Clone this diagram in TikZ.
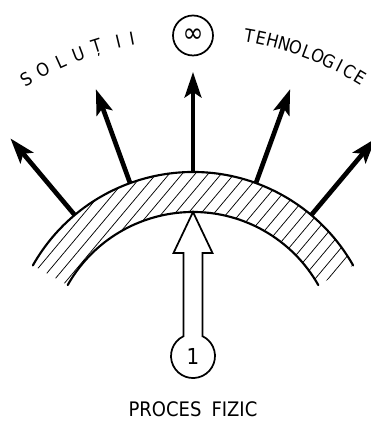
\documentclass[tikz,border=0pt]{standalone}
\usepackage{fontspec}
\setsansfont{DejaVu Sans}[FakeStretch=0.9]
\usepackage{tikz}
\usetikzlibrary{arrows.meta, positioning, calc}
\tikzset{
  >=Stealth,
  font=\sffamily,
  arcline/.style={line width=1.6pt, line cap=round},
  hatch/.style={line width=0.55pt},
  ray/.style={line width=3.5pt, -{Stealth[length=19pt, width=12.5pt, inset=4pt]}},
  hollow/.style={line width=1.3pt, line join=miter},
  ring/.style={circle, draw, line width=1.3pt, minimum size=30pt, inner sep=0pt},
  letter/.style={font=\fontsize{13.5}{14}\selectfont\sffamily, inner sep=0pt},
  caption/.style={font=\fontsize{15}{18}\selectfont\sffamily, inner sep=0pt}
}
\begin{document}
\begin{tikzpicture}[x=0.75pt, y=0.75pt]
  \useasboundingbox (-193,-65) rectangle (178,356);

  % hatched band
  \begin{scope}
    \clip (150.5:184) arc[start angle=150.5, end angle=29.5, radius=184]
      -- (29.5:144) arc[start angle=29.5, end angle=150.5, radius=144] -- cycle;
    \foreach \k in {-24,...,24}
      \draw[hatch] (\k*13,164) ++(230:160) -- ++(50:320);
  \end{scope}
  \draw[arcline] (150.5:184) arc[start angle=150.5, end angle=29.5, radius=184];
  \draw[arcline] (150.5:144) arc[start angle=150.5, end angle=29.5, radius=144];

  % rays
  \foreach \a in {50,70,...,130}
    \draw[ray] (\a:184) -- (\a:284);

  \node[ring, font=\fontsize{21}{21}\selectfont\sffamily] (inf) at (90:320.5) {∞};

  % curved labels
  \foreach \ch/\a in {S/121, O/117.6, L/114.2, U/110.8, Ț/107.3, I/103.4, I/100.9}
    \node[letter, rotate=\a-90] at (\a:323) {\ch};
  \foreach \ch [count=\i from 0] in {T,E,H,N,O,L,O,G,I,C,E}
    \node[letter, rotate=80-2.1*\i-90] at ({80-2.1*\i}:325) {\ch};

  % input arrow
  \node[inner sep=0pt, font=\fontsize{16.5}{16.5}\selectfont\sffamily] (one) at (0,0) {1};
  \draw[hollow] (9.5,19.8) -- (9.5,103) -- (19.5,103) -- (0,144) -- (-19.5,103)
    -- (-9.5,103) -- (-9.5,19.8) arc[start angle=115.6, end angle=424.4, radius=22] -- cycle;

  \node[caption] (proc) at (0,-53) {PROCES\hspace{0.5em}FIZIC};
\end{tikzpicture}
\end{document}
